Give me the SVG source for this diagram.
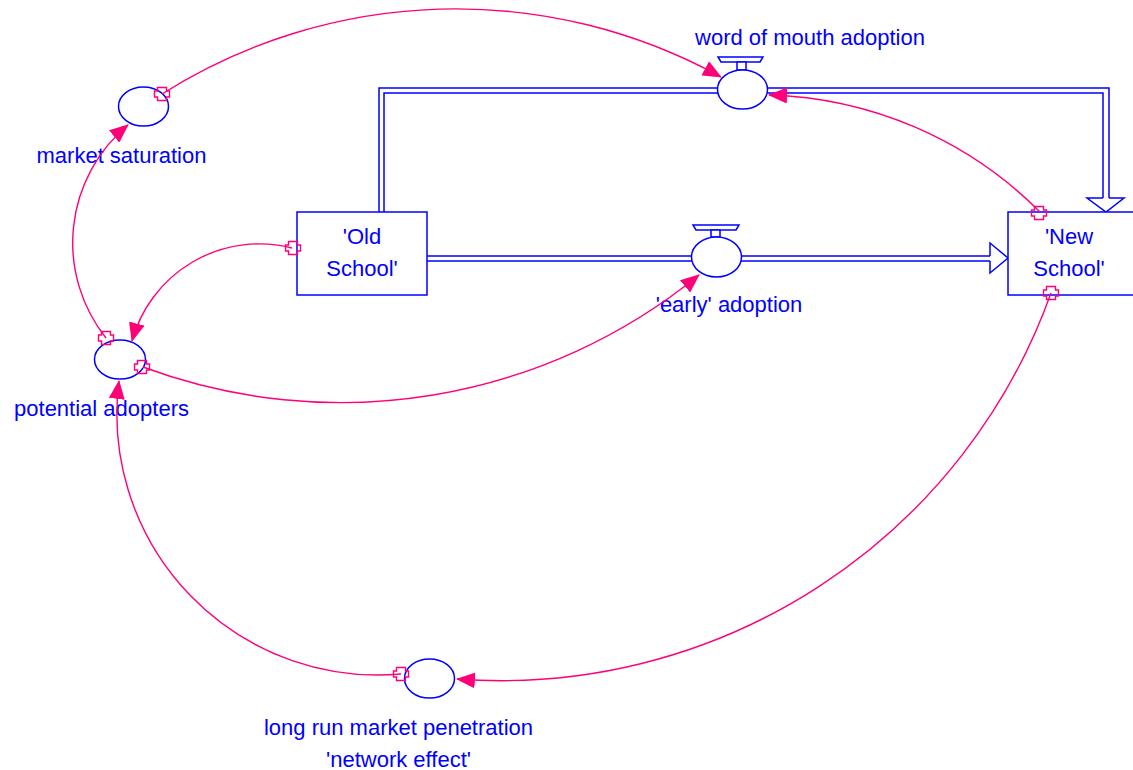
<svg xmlns="http://www.w3.org/2000/svg" xmlns:xlink="http://www.w3.org/1999/xlink" width="1133" height="770" viewBox="0 0 1133 770">
  <style>
    .lbl { font-family: "Liberation Sans", Arial, sans-serif; font-size: 22px; fill: #0000ff; text-anchor: middle; }
    .shape { fill: #ffffff; stroke: #0000ff; stroke-width: 1.5; }
    .pipe { fill: none; stroke: #0000ff; stroke-width: 1.5; }
    .link { fill: none; stroke: #ff0078; stroke-width: 1.4; marker-end: url(#head); }
    .tail { fill: none; stroke: #ff0078; stroke-width: 1.4; }
  </style>
  <defs>
    <marker id="head" viewBox="0 0 19 16" refX="18" refY="8" markerWidth="19" markerHeight="16" markerUnits="userSpaceOnUse" orient="auto">
      <path d="M0,0 L19,8 L0,16 Z" fill="#ff0078"/>
    </marker>
    <path id="tailmark" class="tail" d="M-4.5,-6.5 H4.5 V-3 H7.5 V3 H4.5 V6.5 H-4.5 V3 H-7.5 V-3 H-4.5 Z"/>
  </defs>

  <rect width="1133" height="770" fill="#ffffff"/>

  <!-- material flows (double-line pipes) -->
  <g id="flows">
    <path class="pipe" d="M379,212 V88 H1109 V198"/>
    <path class="pipe" d="M384,212 V93 H1103 V198"/>
    <polyline class="pipe" points="1103,198 1087,198 1106,212 1124,198 1109,198"/>
    <path class="pipe" d="M427,256 H990 M427,261 H990"/>
    <polyline class="pipe" points="990,256 990,243 1008,258 990,273 990,261"/>
  </g>

  <!-- stocks -->
  <g id="old-school">
    <rect class="shape" x="297" y="212" width="130" height="83"/>
    <text class="lbl" x="362" y="244">'Old</text>
    <text class="lbl" x="362" y="276">School'</text>
  </g>
  <g id="new-school">
    <rect class="shape" x="1008" y="212" width="140" height="83"/>
    <text class="lbl" x="1069" y="244">'New</text>
    <text class="lbl" x="1069" y="276">School'</text>
  </g>

  <!-- rate valves -->
  <g id="word-of-mouth-adoption">
    <path class="shape" d="M718,57 H763 L760,62 H721 Z"/>
    <rect class="shape" x="737" y="62" width="9" height="8"/>
    <ellipse class="shape" cx="742.5" cy="89.5" rx="25" ry="19.5"/>
    <text class="lbl" x="810" y="45">word of mouth adoption</text>
  </g>
  <g id="early-adoption">
    <path class="shape" d="M693,225 H739 L736,230 H696 Z"/>
    <rect class="shape" x="711" y="230" width="9" height="7"/>
    <ellipse class="shape" cx="716.5" cy="257" rx="25" ry="20"/>
    <text class="lbl" x="729" y="312">'early' adoption</text>
  </g>

  <!-- auxiliaries -->
  <g id="market-saturation">
    <ellipse class="shape" cx="143.5" cy="106.5" rx="25" ry="19.5"/>
    <text class="lbl" x="121.5" y="163">market saturation</text>
  </g>
  <g id="potential-adopters">
    <ellipse class="shape" cx="120" cy="359.5" rx="25.5" ry="19.5"/>
    <text class="lbl" x="101.5" y="416">potential adopters</text>
  </g>
  <g id="long-run-market-penetration">
    <ellipse class="shape" cx="429.5" cy="678.5" rx="25" ry="19.5"/>
    <text class="lbl" x="398.5" y="735">long run market penetration</text>
    <text class="lbl" x="398.5" y="767">'network effect'</text>
  </g>

  <!-- causal links -->
  <g id="connectors">
    <path class="link" d="M162,94 A550,550 0 0,1 721,77"/>
    <path class="link" d="M1040,212 A398,398 0 0,0 769,95"/>
    <path class="link" d="M292,248 A132,132 0 0,0 132,341"/>
    <path class="link" d="M106,338 A153,153 0 0,1 128,125"/>
    <path class="link" d="M143,367 A567,567 0 0,0 699,275"/>
    <path class="link" d="M1051,293 A584,584 0 0,1 457,679"/>
    <path class="link" d="M401,674 A261,261 0 0,1 119,381"/>
    <use xlink:href="#tailmark" x="162" y="94"/>
    <use xlink:href="#tailmark" x="293" y="248"/>
    <use xlink:href="#tailmark" x="106" y="338"/>
    <use xlink:href="#tailmark" x="142" y="367"/>
    <use xlink:href="#tailmark" x="1039" y="213"/>
    <use xlink:href="#tailmark" x="1051" y="293"/>
    <use xlink:href="#tailmark" x="401" y="674"/>
  </g>
</svg>
